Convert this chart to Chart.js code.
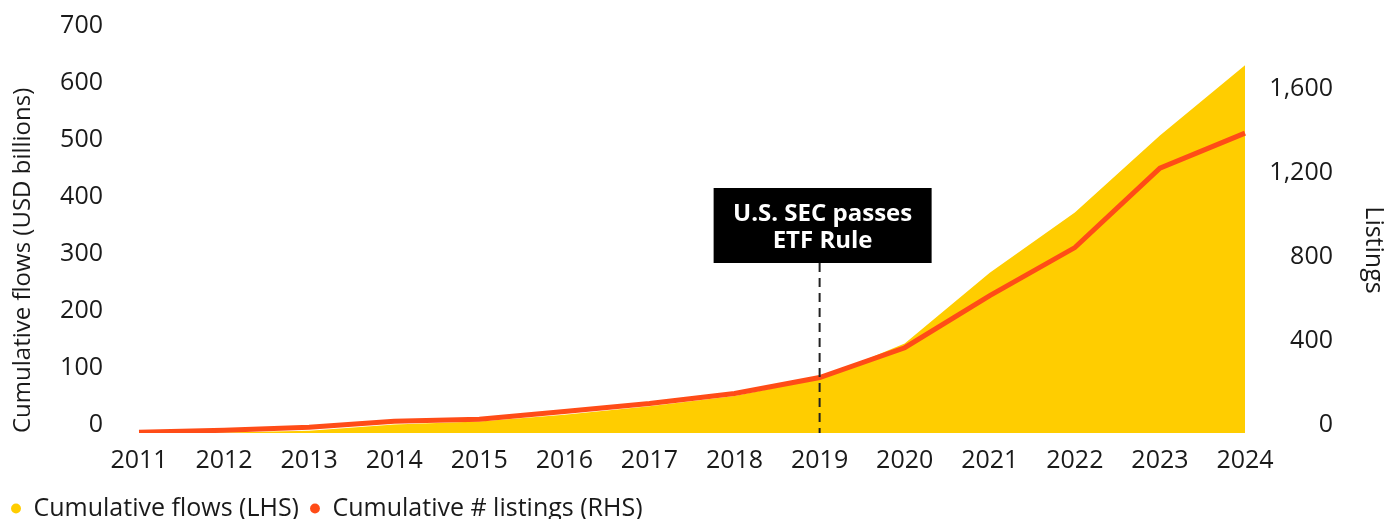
<!DOCTYPE html>
<html>
<head>
<meta charset="utf-8">
<script src="https://cdn.jsdelivr.net/npm/chart.js@4/dist/chart.umd.min.js"></script>
<style>
  html, body { margin: 0; padding: 0; background: #fff; }
  #wrap { width: 1384px; height: 519px; }
</style>
</head>
<body>
<div id="wrap"><canvas id="etfChart"></canvas></div>
<script>
// Data
const years = ["2011", "2012", "2013", "2014", "2015", "2016", "2017",
  "2018", "2019", "2020", "2021", "2022", "2023", "2024"];
const flows = [0, 1, 4, 15, 20, 32, 47, 65, 95, 157, 281, 387, 522, 645];
const listings = [3, 13, 27, 56, 66, 102, 140, 188, 264, 406, 654, 883, 1261, 1428];
const listingTicks = [0, 400, 800, 1200, 1600];

const eventYear = "2019";
const eventLines = ["U.S. SEC passes", "ETF Rule"];

const YELLOW = "#FFCD00";
const ORANGE = "#FF4C17";
const INK = "#1a1a1a";

Chart.defaults.font.family = "'Open Sans', sans-serif";
Chart.defaults.font.size = 25;
Chart.defaults.color = INK;

// Event marker: black box + dashed drop line
const eventMarker = {
  id: "eventMarker",
  afterDatasetsDraw(chart) {
    const { ctx, chartArea } = chart;
    const x = chart.scales.x.getPixelForValue(years.indexOf(eventYear));
    const boxW = 218, boxH = 75;
    const top = chartArea.top + 154;

    ctx.save();
    ctx.strokeStyle = "#222";
    ctx.lineWidth = 2;
    ctx.setLineDash([9, 6]);
    ctx.beginPath();
    ctx.moveTo(x, top + boxH);
    ctx.lineTo(x, chartArea.bottom);
    ctx.stroke();

    ctx.setLineDash([]);
    ctx.fillStyle = "#000";
    ctx.fillRect(x - boxW / 2 + 3, top, boxW, boxH);

    ctx.fillStyle = "#fff";
    ctx.font = "bold 24px 'Open Sans', sans-serif";
    ctx.textAlign = "center";
    ctx.textBaseline = "middle";
    ctx.fillText(eventLines[0], x + 3, top + 26);
    ctx.fillText(eventLines[1], x + 3, top + 53);
    ctx.restore();
  },
};

// Right axis title, placed like the reference
const rightTitle = {
  id: "rightTitle",
  afterDraw(chart) {
    const { ctx } = chart;
    ctx.save();
    ctx.translate(1373, 250);
    ctx.rotate(Math.PI / 2);
    ctx.fillStyle = INK;
    ctx.font = "25px 'Open Sans', sans-serif";
    ctx.textAlign = "center";
    ctx.textBaseline = "middle";
    ctx.fillText("Listings", 0, 0);
    ctx.restore();
  },
};

// drop the extra label padding so layout.padding.top sets the plot top
function noPad(scale) {
  scale.paddingTop = 0;
  scale.paddingBottom = 0;
}

new Chart(document.getElementById("etfChart"), {
  type: "line",
  data: {
    labels: years,
    datasets: [
      {
        label: "Cumulative flows (LHS)",
        data: flows,
        yAxisID: "yFlows",
        order: 1,
        fill: "origin",
        backgroundColor: YELLOW,
        borderColor: YELLOW,
        borderWidth: 0,
        pointRadius: 0,
        tension: 0,
      },
      {
        label: "Cumulative # listings (RHS)",
        data: listings,
        yAxisID: "yListings",
        order: 0,
        fill: false,
        borderColor: ORANGE,
        backgroundColor: ORANGE,
        borderWidth: 5,
        pointRadius: 0,
        tension: 0,
      },
    ],
  },
  plugins: [eventMarker, rightTitle],
  options: {
    responsive: true,
    maintainAspectRatio: false,
    animation: false,
    layout: { padding: { top: 34, left: 0, right: 51, bottom: -12 } },
    plugins: {
      tooltip: { enabled: false },
      legend: {
        position: "bottom",
        align: "start",
        labels: {
          usePointStyle: true,
          pointStyle: "circle",
          boxWidth: 10,
          boxHeight: 7,
          padding: 11,
          color: INK,
          font: { size: 25 },
          sort: (a, b) => a.datasetIndex - b.datasetIndex,
          generateLabels(chart) {
            const items = Chart.defaults.plugins.legend.labels.generateLabels(chart);
            return items.map((it) => ({ ...it, lineWidth: 0, pointStyle: "circle" }));
          },
        },
      },
    },
    scales: {
      x: {
        offset: false,
        grid: { display: false, drawTicks: false },
        border: { display: false },
        ticks: { padding: 13, maxRotation: 0, autoSkip: false, color: INK },
        afterFit(scale) { scale.height = 52; },
      },
      yFlows: {
        position: "left",
        min: 0,
        max: 700,
        grid: { display: false, drawTicks: false },
        border: { display: false },
        ticks: { stepSize: 100, padding: 36, labelOffset: -8, color: INK },
        title: {
          display: true,
          text: "Cumulative flows (USD billions)",
          align: "start",
          color: INK,
          font: { size: 24 },
          padding: { top: 9, bottom: 0 },
        },
        afterFit(scale) { scale.width = 139; noPad(scale); },
      },
      yListings: {
        position: "right",
        min: 0,
        max: 1900,
        grid: { display: false, drawTicks: false },
        border: { display: false },
        ticks: { padding: 27, crossAlign: "far", labelOffset: -8, color: INK },
        afterBuildTicks(scale) {
          scale.ticks = listingTicks.map((v) => ({ value: v }));
        },
        afterFit(scale) { scale.width = 88; noPad(scale); },
      },
    },
  },
});
</script>
</body>
</html>
